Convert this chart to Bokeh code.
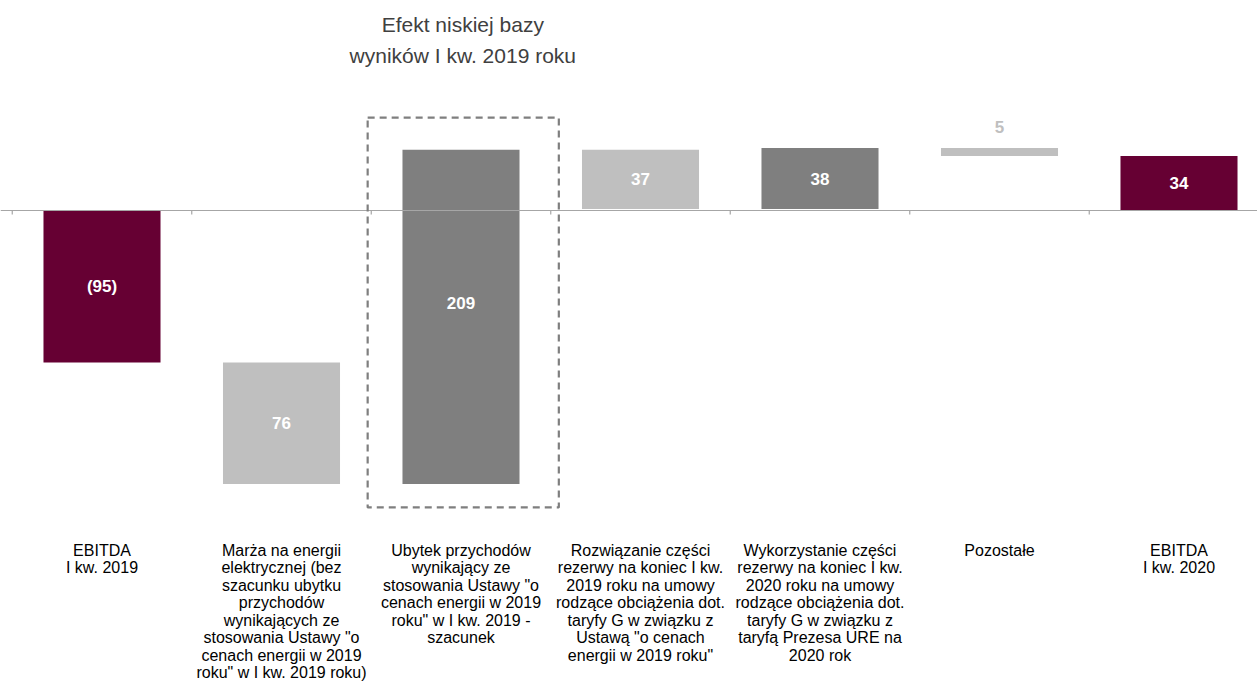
from bokeh.plotting import figure
from bokeh.models import Range1d, ColumnDataSource
from bokeh.core.properties import value
from bokeh.embed import file_html
from bokeh.resources import INLINE

# EBITDA bridge, Q1 2019 -> Q1 2020 (PLN m)
categories = [
    "EBITDA\nI kw. 2019",
    "Marża na energii\nelektrycznej (bez\nszacunku ubytku\nprzychodów\nwynikających ze\nstosowania Ustawy \"o\ncenach energii w 2019\nroku\" w I kw. 2019 roku)",
    "Ubytek przychodów\nwynikający ze\nstosowania Ustawy \"o\ncenach energii w 2019\nroku\" w I kw. 2019 -\nszacunek",
    "Rozwiązanie części\nrezerwy na koniec I kw.\n2019 roku na umowy\nrodzące obciążenia dot.\ntaryfy G w związku z\nUstawą \"o cenach\nenergii w 2019 roku\"",
    "Wykorzystanie części\nrezerwy na koniec I kw.\n2020 roku na umowy\nrodzące obciążenia dot.\ntaryfy G w związku z\ntaryfą Prezesa URE na\n2020 rok",
    "Pozostałe",
    "EBITDA\nI kw. 2020",
]
start_total = -95
changes = [-76, 209, -37, 38, -5]
end_total = 34
bar_colors = ["#660033", "#bfbfbf", "#7f7f7f", "#bfbfbf", "#7f7f7f", "#bfbfbf", "#660033"]
highlight_title = "Efekt niskiej bazy\nwyników I kw. 2019 roku"

# ---- waterfall geometry ----
bottoms, tops, labels = [], [], []
bottoms.append(min(0, start_total)); tops.append(max(0, start_total))
labels.append(f"({abs(start_total)})" if start_total < 0 else str(start_total))
level = start_total
for c in changes:
    new = level + c
    bottoms.append(min(level, new)); tops.append(max(level, new))
    labels.append(str(abs(c)))
    level = new
bottoms.append(min(0, end_total)); tops.append(max(0, end_total))
labels.append(f"({abs(end_total)})" if end_total < 0 else str(end_total))

n = len(categories)
xs = [i + 0.5 for i in range(n)]
mids = [(b + t) / 2 for b, t in zip(bottoms, tops)]

px_per_unit = 1.6
W, H = 1257, 686
zero_px = 210
slot_px = 179.5
left_px = 11.75
x0 = -left_px / slot_px
x1 = x0 + W / slot_px
y1 = zero_px / px_per_unit
y0 = y1 - H / px_per_unit

p = figure(width=W, height=H, x_range=Range1d(x0, x1), y_range=Range1d(y0, y1),
           toolbar_location=None, output_backend="svg", min_border=0)
p.axis.visible = False
p.grid.visible = False
p.outline_line_color = None
p.background_fill_color = "white"
p.border_fill_color = "white"

src = ColumnDataSource(dict(x=xs, bottom=bottoms, top=tops, color=bar_colors))
p.vbar(x="x", width=0.652, bottom="bottom", top="top", fill_color="color",
       line_color=None, source=src)

# zero line with small category ticks
p.segment(x0=[x0], y0=[0], x1=[x1], y1=[0], line_color="#a6a6a6", line_width=1.2)
tick_x = list(range(n + 1))
p.segment(x0=tick_x, y0=[0] * len(tick_x), x1=tick_x, y1=[-4 / px_per_unit] * len(tick_x),
          line_color="#a6a6a6", line_width=1.2)

# value labels: inside bars in white, small bars labelled above in grey
lab_y, lab_col = [], []
for i, (b, t, m) in enumerate(zip(bottoms, tops, mids)):
    if (t - b) < 15:
        lab_y.append(t + 13); lab_col.append("#bfbfbf")
    else:
        lab_y.append(m); lab_col.append("white")
lab_y[2] = mids[2] + 8.5
p.text(x=xs, y=lab_y, text=labels, text_color=lab_col, text_align="center",
       text_baseline="middle", text_font=value("Liberation Sans"),
       text_font_style="bold", text_font_size="17px")

# category labels under the chart
cat_top = -207.0
p.text(x=xs, y=[cat_top] * n, text=categories, text_color="black", text_align="center",
       text_baseline="top", text_font=value("Liberation Sans"), text_font_size="16px",
       text_line_height=1.03)

# dashed frame marking the low-base effect
hi = 2
p.quad(left=[xs[hi] - 0.52], right=[xs[hi] + 0.545], bottom=[-185.6], top=[58],
       fill_color=None, line_color="#7f7f7f", line_width=2.2, line_dash="7 5")
p.text(x=[xs[hi] + 0.01], y=[y1 - 12 / px_per_unit], text=[highlight_title],
       text_color="#404040", text_align="center", text_baseline="top",
       text_font=value("Liberation Sans"), text_font_size="21px", text_line_height=1.38)

open("out.html", "w").write(file_html(p, INLINE))
